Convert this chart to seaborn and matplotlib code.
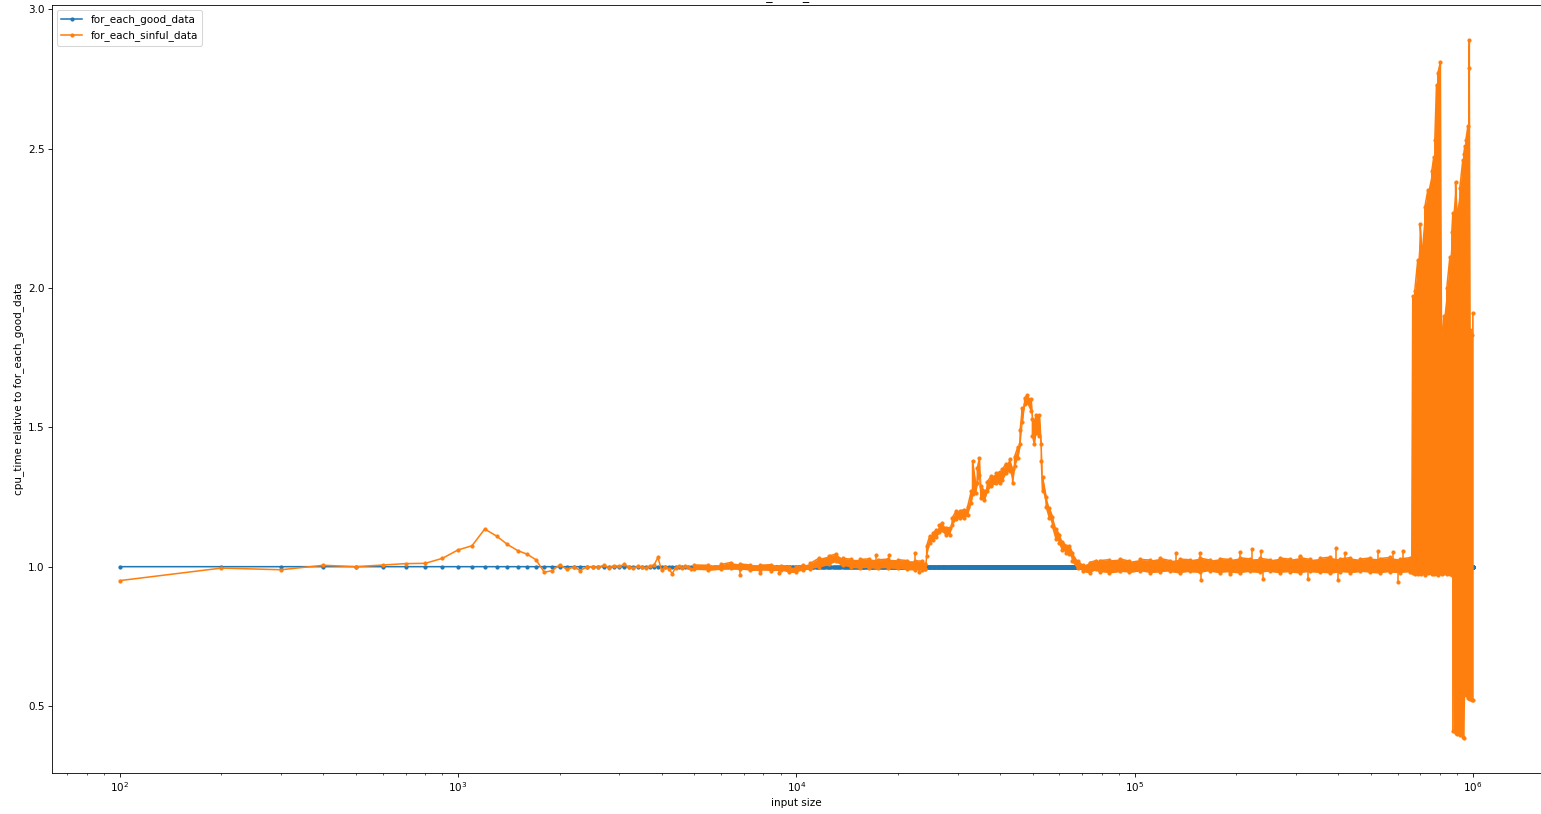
import numpy as np
import pandas as pd
import matplotlib
matplotlib.use("Agg")
import matplotlib.pyplot as plt
import seaborn as sns

BLUE = "#1f77b4"
ORANGE = "#ff7f0e"

# ---------------------------------------------------------------------------
# data: cpu_time of for_each_sinful_data relative to for_each_good_data
# ---------------------------------------------------------------------------

# benchmark input sizes 100, 200, ..., 1_000_000
input_sizes = np.arange(100, 1_000_001, 100)
good_ratio = [1.0] * len(input_sizes)          # baseline relative to itself

# small inputs, one reading per size
small_sizes = list(range(100, 5000, 100))
small_ratio = [
    0.950, 0.995, 0.989, 1.005, 1.000, 1.006, 1.011, 1.012, 1.030, 1.060,
    1.075, 1.135, 1.110, 1.080, 1.058, 1.045, 1.025, 0.980, 0.986, 1.007,
    0.990, 0.999, 0.986, 0.999, 1.000, 0.998, 1.005, 0.997, 1.004, 1.001,
    1.008, 0.999, 0.994, 1.002, 0.998, 0.996, 1.003, 1.006, 1.033, 0.987,
    1.000, 0.992, 0.975, 0.997, 1.002, 0.995, 1.004, 0.998, 0.990,
]

# from 5k on the samples are too dense to separate: min / max per neighbourhood
# 5k - 24k
mid_sizes = [5000, 5500, 6000, 6400, 6800, 7300, 7800, 8400, 9000, 9500,
             10000, 10500, 11000, 11700, 12500, 13100, 13700, 14500, 15400,
             16400, 17500, 18700, 20000, 21200, 22500, 23500, 24000]
mid_lo = [0.990, 0.988, 0.991, 0.995, 0.992, 0.987, 0.988, 0.986, 0.988, 0.980,
          0.981, 0.989, 0.992, 1.000, 1.008, 1.019, 1.005, 0.998, 0.996,
          0.997, 0.995, 0.997, 0.994, 0.990, 0.989, 0.988, 0.993]
mid_hi = [1.006, 1.005, 1.008, 1.015, 1.010, 1.006, 1.005, 1.007, 1.004, 0.999,
          0.998, 1.006, 1.012, 1.031, 1.039, 1.045, 1.030, 1.027, 1.026,
          1.028, 1.025, 1.027, 1.025, 1.022, 1.021, 1.020, 1.010]

# the bump around 50k
peak_sizes = [24100, 24300, 24800, 25300, 25900, 26500, 27000, 27700, 28400,
              28900, 29700, 30400, 31400, 32100, 32900, 33200, 33900, 34300,
              34800, 35200, 36000, 36700, 37700, 39000, 39900, 40700, 41700,
              42700, 43600, 44200, 45200, 45900, 46600, 47300, 48200, 49500,
              49900, 50600, 51200, 52300, 53000, 53500, 54800, 56000, 57200,
              58600, 60000, 61200, 62800, 64200, 65500, 68000, 70200, 73600,
              77000]
peak_lo = [0.990, 1.040, 1.085, 1.095, 1.105, 1.125, 1.130, 1.115, 1.115,
           1.150, 1.170, 1.175, 1.175, 1.185, 1.230, 1.260, 1.265, 1.300,
           1.330, 1.245, 1.240, 1.270, 1.290, 1.300, 1.300, 1.310, 1.335,
           1.345, 1.300, 1.360, 1.390, 1.440, 1.520, 1.585, 1.590, 1.560,
           1.470, 1.440, 1.480, 1.470, 1.380, 1.270, 1.215, 1.175, 1.145,
           1.100, 1.085, 1.060, 1.050, 1.045, 1.020, 0.995, 0.985, 0.978,
           0.990]
peak_hi = [1.010, 1.075, 1.110, 1.120, 1.130, 1.150, 1.155, 1.140, 1.140,
           1.175, 1.200, 1.200, 1.205, 1.215, 1.270, 1.380, 1.300, 1.355,
           1.390, 1.290, 1.270, 1.305, 1.325, 1.335, 1.340, 1.350, 1.370,
           1.385, 1.350, 1.395, 1.430, 1.490, 1.570, 1.605, 1.615, 1.600,
           1.530, 1.520, 1.545, 1.545, 1.440, 1.320, 1.250, 1.210, 1.180,
           1.135, 1.115, 1.090, 1.075, 1.075, 1.050, 1.020, 1.005, 1.015,
           1.022]

# 79k - 660k: flat noisy band
band_sizes = [78800, 84300, 90300, 96600, 103500, 110800, 118600, 126900,
              135900, 145400, 155700, 166700, 178400, 191000, 204500, 218900,
              234300, 250800, 268500, 287400, 307700, 329400, 352600, 377400,
              404000, 432500, 463000, 495700, 530600, 568000, 608100, 651000,
              660000]
band_lo = [0.982, 0.978, 0.983, 0.980, 0.985, 0.979, 0.982, 0.984,
           0.978, 0.983, 0.980, 0.985, 0.979, 0.982, 0.978, 0.983,
           0.980, 0.984, 0.979, 0.982, 0.978, 0.983, 0.980, 0.977,
           0.982, 0.979, 0.983, 0.980, 0.978, 0.982, 0.979, 0.981,
           0.980]
band_hi = [1.022, 1.025, 1.028, 1.020, 1.026, 1.024, 1.030, 1.022,
           1.027, 1.025, 1.031, 1.024, 1.029, 1.026, 1.032, 1.028,
           1.030, 1.025, 1.031, 1.027, 1.033, 1.026, 1.030, 1.034,
           1.028, 1.032, 1.027, 1.031, 1.029, 1.033, 1.028, 1.032,
           1.030]

# 664k - 1M: results jump between two levels
dense_sizes = [664400, 673500, 687400, 699000, 705000, 721100, 736000, 756300,
               766700, 772000, 781000, 787800, 802000, 809500, 820600, 837600,
               855100, 866800, 872700, 889000, 896900, 915400, 934300, 940000,
               947100, 953600, 966700, 973300, 976500, 983000, 993000, 1000000]
dense_lo = [0.978, 0.975, 0.972, 0.978, 0.975, 0.970, 0.976, 0.972,
            0.975, 0.978, 0.974, 0.971, 0.976, 0.973, 0.977, 0.972,
            0.975, 0.970, 0.410, 0.402, 0.398, 0.395, 0.388, 0.385,
            0.550, 0.540, 0.530, 0.530, 0.528, 0.525, 0.522, 0.520]
dense_hi = [1.970, 1.990, 2.100, 2.230, 2.150, 2.290, 2.350, 2.420,
            2.470, 2.530, 2.730, 2.770, 2.810, 1.820, 1.900, 2.000,
            2.110, 2.200, 2.270, 2.380, 2.280, 2.360, 2.460, 2.480,
            2.510, 2.530, 2.580, 2.790, 2.890, 1.850, 1.830, 1.910]

# isolated outliers sticking out of the bands
spike_sizes = [6800, 7800, 8900, 17200, 18800, 22400, 23000, 132900, 155700,
               157500, 191000, 204500, 222900, 237100, 239000, 307700, 325600,
               395100, 399500, 418100, 524600, 581100, 601200, 622000]
spike_ratio = [0.971, 0.977, 0.977, 1.043, 1.041, 1.049, 0.981, 1.049, 1.049,
               0.951, 0.972, 1.051, 1.063, 1.055, 0.957, 1.039, 0.955,
               1.067, 0.951, 1.049, 1.055, 1.051, 0.945, 1.058]


def zigzag(sizes, lo, hi):
    """Walk min/max pairs so the line traces both edges of a band."""
    xs, ys = [], []
    for i, (s, a, b) in enumerate(zip(sizes, lo, hi)):
        xs += [s, s]
        ys += [a, b] if i % 2 == 0 else [b, a]
    return xs, ys


env_sizes = mid_sizes + peak_sizes + band_sizes + dense_sizes
env_lo = mid_lo + peak_lo + band_lo + dense_lo
env_hi = mid_hi + peak_hi + band_hi + dense_hi

env_x, env_y = zigzag(env_sizes, env_lo, env_hi)
sinful_x = small_sizes + env_x
sinful_y = small_ratio + env_y

spikes = pd.DataFrame({
    "id": list(range(len(spike_sizes))) * 2,
    "size": spike_sizes * 2,
    "ratio": [1.0] * len(spike_sizes) + spike_ratio,
})

# ---------------------------------------------------------------------------
# plot
# ---------------------------------------------------------------------------

fig = plt.figure(figsize=(1541 / 75, 814 / 75), dpi=75)
ax = fig.add_axes([52 / 1541, 41 / 814, 1488.5 / 1541, 768 / 814])

line_kw = dict(marker=".", markeredgewidth=1.0, estimator=None, ax=ax)
sns.lineplot(x=input_sizes, y=good_ratio, color=BLUE, markeredgecolor=BLUE,
             label="for_each_good_data", **line_kw)
sns.lineplot(x=sinful_x, y=sinful_y, color=ORANGE, markeredgecolor=ORANGE,
             sort=False, label="for_each_sinful_data", **line_kw)
sns.lineplot(data=spikes, x="size", y="ratio", units="id", color=ORANGE,
             markeredgecolor=ORANGE, legend=False, **line_kw)

ax.fill_between(env_sizes, env_lo, env_hi, color=ORANGE, lw=0, zorder=2)

ax.set_xscale("log")
ax.set_xlabel("input size")
ax.set_ylabel("cpu_time relative to for_each_good_data")
ax.set_title("for_each_sinful")
ax.legend(loc="upper left")

fig.savefig("out.png", dpi=75)
